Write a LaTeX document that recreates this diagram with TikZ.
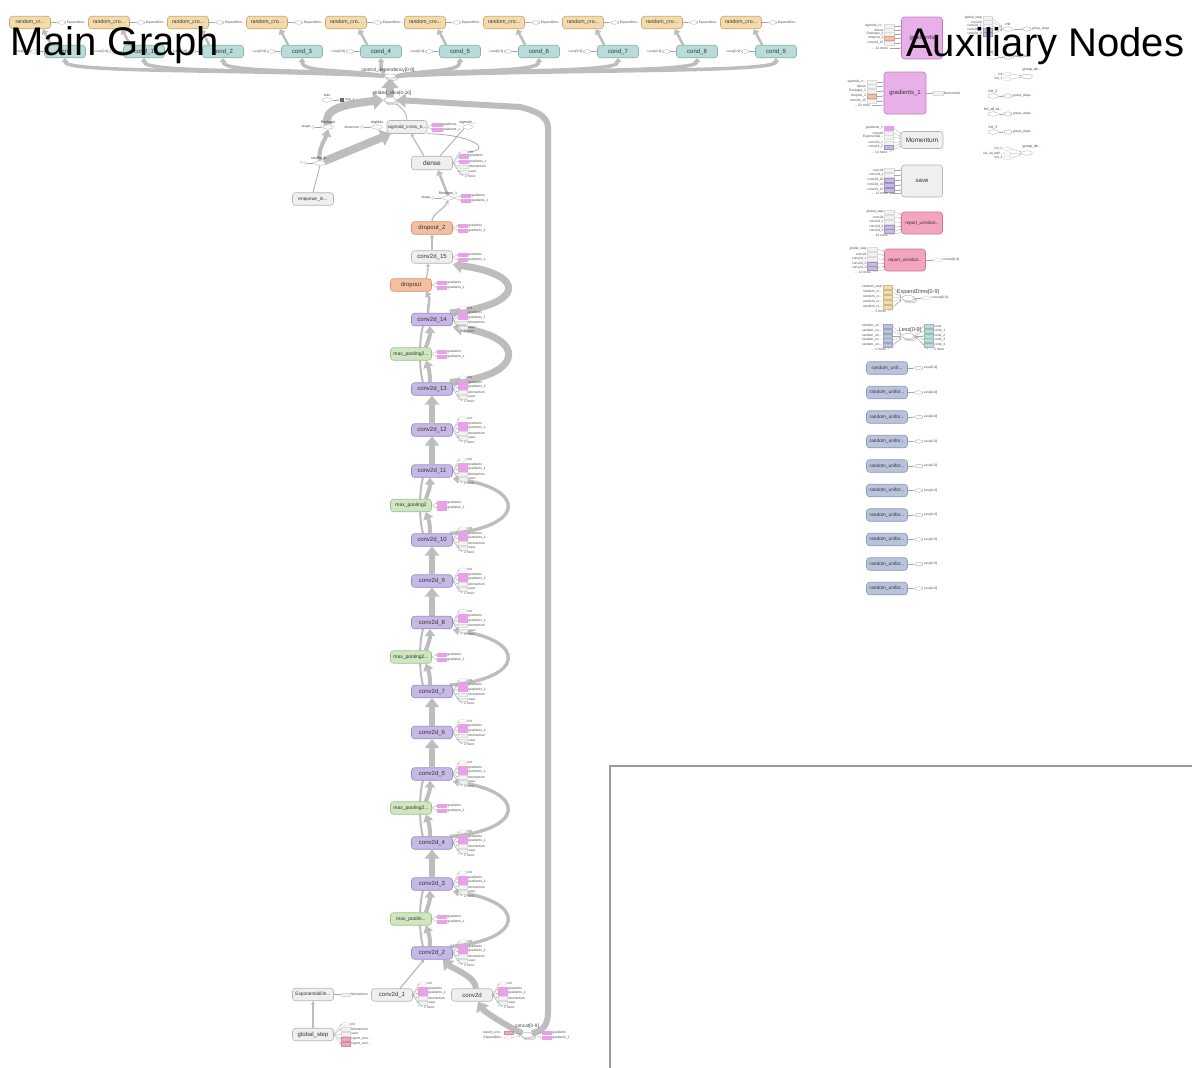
\documentclass[tikz,border=0pt]{standalone}
\usepackage{fontspec}
\setmainfont{Liberation Sans}
\usetikzlibrary{arrows.meta,calc,shapes.geometric,shadows}
\pgfdeclarelayer{bottom}
\pgfdeclarelayer{edges}
\pgfsetlayers{bottom,edges,main}
\newcommand\dts{.\kern0pt.\kern0pt.}
\definecolor{tanF}{HTML}{F3DBAB}
\definecolor{tanD}{HTML}{C9A86E}
\definecolor{tealF}{HTML}{B9DBDA}
\definecolor{tealD}{HTML}{86B2B0}
\definecolor{grayF}{HTML}{EFEFEF}
\definecolor{grayD}{HTML}{B5B5B5}
\definecolor{purF}{HTML}{C7B9E5}
\definecolor{purD}{HTML}{9A89C6}
\definecolor{grnF}{HTML}{CFE7C1}
\definecolor{grnD}{HTML}{9CC487}
\definecolor{orgF}{HTML}{F5BFA2}
\definecolor{orgD}{HTML}{D4926E}
\definecolor{pnkF}{HTML}{E9AFE9}
\definecolor{pnkD}{HTML}{BB80BB}
\definecolor{pnkT}{HTML}{E7A2E7}
\definecolor{rosF}{HTML}{F3A5C0}
\definecolor{rosD}{HTML}{CC7595}
\definecolor{bluF}{HTML}{B9C3DB}
\definecolor{bluD}{HTML}{8C99BB}
\definecolor{edgeG}{HTML}{BDBDBD}
\definecolor{lineG}{HTML}{9A9A9A}
\tikzset{
  opnode/.style={draw, rounded corners=3pt, line width=0.6pt, minimum width=41pt, minimum height=12.5pt, inner sep=0pt, font=\fontsize{6}{7}\selectfont, text=black!80},
  tanN/.style={opnode, fill=tanF, draw=tanD},
  tealN/.style={opnode, fill=tealF, draw=tealD},
  grayN/.style={opnode, fill=grayF, draw=grayD},
  purN/.style={opnode, fill=purF, draw=purD},
  grnN/.style={opnode, fill=grnF, draw=grnD, font=\fontsize{5}{6}\selectfont},
  orgN/.style={opnode, fill=orgF, draw=orgD},
  pnkN/.style={opnode, fill=pnkF, draw=pnkD},
  rosN/.style={opnode, fill=rosF, draw=rosD, font=\fontsize{4.5}{5}\selectfont},
  bluN/.style={opnode, fill=bluF, draw=bluD, font=\fontsize{4.8}{5}\selectfont},
  smallf/.style={font=\fontsize{4.8}{5.5}\selectfont},
  tagbox/.style={rectangle, minimum width=9.5pt, minimum height=3.6pt, inner sep=0pt, draw=black!14, line width=0.2pt, fill=black!5},
  tgP/.style={fill=pnkT, draw=pnkT},
  tgL/.style={},
  tgW/.style={ellipse, fill=white, draw=black!25, minimum width=8pt, minimum height=3.4pt},
  tgN/.style={draw=none, fill=none, minimum width=1pt},
  tgU/.style={fill=purF, draw=purF!80!black},
  tgO/.style={fill=orgF, draw=orgF!85!black},
  tgR/.style={fill=rosF, draw=rosF!85!black},
  tgT/.style={fill=tealF, draw=tealF!85!black},
  tgB/.style={fill=bluF, draw=bluF!85!black},
  tgK/.style={fill=tanF, draw=tanF!85!black},
  tagtxt/.style={font=\fontsize{3.3}{3.6}\selectfont, inner sep=0.6pt, text=black!70},
  fanln/.style={draw=black!35, line width=0.25pt, -{Latex[length=1.4pt,width=1.2pt]}},
  ellop/.style={ellipse, draw=black!40, fill=white, minimum width=11pt, minimum height=4.5pt, inner sep=0pt, line width=0.3pt},
  circop/.style={circle, draw=black!40, fill=white, minimum size=3pt, inner sep=0pt, line width=0.3pt},
  stacknode/.style={ellop, double copy shadow={shadow xshift=1.2pt, shadow yshift=-1.2pt}},
  elab/.style={font=\fontsize{3.6}{4}\selectfont, inner sep=0.5pt, text=black!75},
  thinE/.style={draw=edgeG!85!black, line width=0.7pt},
  arrW/.style={draw=edgeG, line width=8pt, -{Triangle[length=10pt,width=17pt]}},
  arrA/.style={draw=edgeG, line width=6pt, -{Triangle[length=9pt,width=14pt]}},
  arrB/.style={draw=edgeG, line width=4pt, -{Triangle[length=7pt,width=10pt]}},
  arrC/.style={draw=edgeG, line width=2.5pt, -{Triangle[length=5pt,width=7pt]}},
  arrCD/.style={draw=edgeG, line width=3.5pt, -{Triangle[length=4pt,width=7pt]}},
  arrD/.style={draw=edgeG, line width=1.3pt, -{Triangle[length=3pt,width=4pt]}},
  loopS/.style={draw=edgeG, line width=3.3pt, -{Triangle[length=6pt,width=8.5pt]}},
  loopW/.style={draw=edgeG, line width=7pt, -{Triangle[length=9pt,width=14pt]}},
}
\newcommand\fanout[3]{%
  \foreach \dy/\st/\lb [count=\i] in {#3} {
    \node[tagbox,\st] (#1-t\i) at ($(#1.east)+(#2,\dy)$) {};
    \node[tagtxt,anchor=west] at (#1-t\i.east) {\lb};
    \draw[fanln] (#1.east) -- (#1-t\i.west);
  }}
\newcommand\fanin[4]{%
  \foreach \dy/\st/\lb [count=\i] in {#3} {
    \node[tagbox,\st] (#1-i\i) at ($(#1.west)+(-#2,\dy)$) {};
    \node[tagtxt,anchor=east] at (#1-i\i.west) {\lb};
    \draw[fanln] (#1-i\i.east) -- ($(#1.west)+(0,{\dy*#4})$);
  }}
\newcommand\convtags[1]{\fanout{#1}{10}{-11.5/tgW/init,-6.5/tgP/gradients,-2/tgP/gradients\_1,3/tgL/Momentum,8/tgL/save,12/tgN/2 more}}
\newcommand\twotags[2]{\fanout{#1}{#2}{-2.5/tgP/gradients,2.5/tgP/gradients\_1}}
\newcommand\poolsec[4]{%
 \draw[edgeG, line width=2pt] ([xshift=-9]#1.north) .. controls +(-4,-14) and +(-4,14) .. ([xshift=-9]#3.south);
 \draw[arrB] ([xshift=-2]#1.north) .. controls +(0,-10) and +(3,8) .. ([xshift=-6]#2.south east);
 \draw[arrB] ([xshift=-6]#2.north east) .. controls +(3,-8) and +(0,10) .. ([xshift=-2]#3.south);
 \draw[#4] ([xshift=-3]#1.north east) .. controls +(75,-6) and +(75,10) .. ([yshift=-1]#3.south east);
}
\begin{document}
\begin{tikzpicture}[x=1pt,y=-1pt]
\useasboundingbox (0,0) rectangle (1192,1068);
\begin{pgfonlayer}{bottom}
\fill[white] (0,0) rectangle (1192,1068);
\end{pgfonlayer}

% ---------- top rows
\foreach \i/\rl/\cl in {0/random\_cr\dts/cond,1/random\_cro\dts/cond\_1,2/random\_cro\dts/cond\_2,3/random\_cro\dts/cond\_3,4/random\_cro\dts/cond\_4,5/random\_cro\dts/cond\_5,6/random\_cro\dts/cond\_6,7/random\_cro\dts/cond\_7,8/random\_cro\dts/cond\_8,9/random\_cro\dts/cond\_9}{
  \node[tanN, font=\fontsize{5.2}{6}\selectfont] (rnd\i) at ({30+79*\i},22.5) {\rl};
  \node[tealN] (cond\i) at ({65+79*\i},51.5) {\cl};
  \node[ellop, minimum width=8pt, minimum height=3.6pt] (xe\i) at ($(rnd\i.east)+(11,0)$) {};
  \draw[fanln] (rnd\i.east) -- (xe\i.west);
  \node[tagtxt, anchor=west] at (xe\i.east) {ExpandDim\dts};
  \node[ellop, minimum width=8pt, minimum height=3.6pt] (le\i) at ($(cond\i.west)+(-10,0)$) {};
  \draw[fanln] (le\i.east) -- (cond\i.west);
  \node[tagtxt, anchor=east] at (le\i.west) {Less[0-9]};
}
\node[stacknode, minimum width=12pt, minimum height=4pt] (cd) at (390,76) {};
\node[elab, font=\fontsize{4.8}{5}\selectfont] (cdl) at (388,70.5) {control\_dependency[0-9]};

% ---------- upper main graph
\node[stacknode, minimum width=13pt, minimum height=5pt] (ss) at (390,100) {};
\node[elab, font=\fontsize{4.8}{5}\selectfont] (ssl) at (392,93) {strided\_slice[0-10]};
\node[ellop] (loss) at (327,100) {};
\node[elab, above=0pt] at (loss.north) {loss};
\node[rectangle, fill=black!60, minimum size=4.5pt, inner sep=0pt] (lsq) at (342,100) {};
\draw[fanln] (loss.east) -- (lsq.west);
\node[tagtxt, anchor=west] at (lsq.east) {loss\_1};

\node[ellop] (resh) at (328,127) {};
\node[elab, above=0pt] at (resh.north) {Reshape};
\node[circop] (rshape) at (313,127) {};
\node[tagtxt, anchor=east] at (rshape.west) {shape};
\draw[fanln] (rshape) -- (resh.west);

\node[ellop] (argm) at (377,127) {};
\node[elab, above=0pt] at (argm.north) {ArgMax};
\node[circop] (dimc) at (362,127) {};
\node[tagtxt, anchor=east] at (dimc.west) {dimension};
\draw[fanln] (dimc) -- (argm.west);

\node[grayN, minimum width=40pt, minimum height=13pt, font=\fontsize{4.6}{5}\selectfont] (sgc) at (407,127) {sigmoid\_cross\_e\dts};
\twotags{sgc}{10}
\node[ellop] (sig) at (468,127) {};
\node[elab, above=0pt] at (sig.north) {sigmoid\_\dts};

\node[ellop] (sbat) at (320,163) {};
\node[elab, above=0pt] at (sbat.north) {shuffle\_b\dts};
\node[circop] (nc) at (305,163) {};
\node[tagtxt, anchor=east] at (nc.west) {n};
\draw[fanln] (nc) -- (sbat.west);
\node[grayN, smallf] (enq) at (313,199) {enqueue\_in\dts};

\node[grayN, minimum height=13.5pt, font=\fontsize{6.5}{7}\selectfont] (dense) at (432,163) {dense};
\fanout{dense}{11}{-11/tgW/init,-7/tgP/gradients,-1.5/tgP/gradients\_1,3.5/tgL/Momentum,9/tgL/save,13/tgN/2 more}

\node[ellop] (r1) at (448,198) {};
\node[elab, above=0pt] at (r1.north) {Reshape\_1};
\node[circop] (r1s) at (433,198) {};
\node[tagtxt, anchor=east] at (r1s.west) {shape};
\draw[fanln] (r1s) -- (r1.west);
\twotags{r1}{12}

% ---------- main chain
\node[orgN] (do2) at (432,228) {dropout\_2};
\twotags{do2}{10}
\node[grayN] (c15) at (432,257) {conv2d\_15};
\twotags{c15}{10}
\node[orgN] (do) at (411,285) {dropout};
\twotags{do}{10}
\node[purN] (c14) at (432,319.5) {conv2d\_14};
\node[grnN] (mp5) at (411,354) {max\_pooling2\dts};
\node[purN] (c13) at (432,389) {conv2d\_13};
\node[purN] (c12) at (432,430) {conv2d\_12};
\node[purN] (c11) at (432,471) {conv2d\_11};
\node[grnN] (mp4) at (411,505.5) {max\_pooling2};
\node[purN] (c10) at (432,540) {conv2d\_10};
\node[purN] (c9) at (432,581) {conv2d\_9};
\node[purN] (c8) at (432,622.5) {conv2d\_8};
\node[grnN] (mp3) at (411,657) {max\_pooling2\dts};
\node[purN] (c7) at (432,691.5) {conv2d\_7};
\node[purN] (c6) at (432,732.5) {conv2d\_6};
\node[purN] (c5) at (432,774) {conv2d\_5};
\node[grnN] (mp2) at (411,808) {max\_pooling2\dts};
\node[purN] (c4) at (432,843) {conv2d\_4};
\node[purN] (c3) at (432,884) {conv2d\_3};
\node[grnN] (mp1) at (411,919) {max\_poolin\dts};
\node[purN] (c2) at (432,953) {conv2d\_2};
\foreach \n in {c14,c13,c12,c11,c10,c9,c8,c7,c6,c5,c4,c3,c2} {\convtags{\n}}
\foreach \n in {mp5,mp4,mp3,mp2,mp1} {\twotags{\n}{10}}

\node[grayN] (c1) at (392,995) {conv2d\_1};
\node[grayN] (cv0) at (472,995) {conv2d};
\convtags{c1}
\convtags{cv0}
\node[grayN, font=\fontsize{4.8}{5}\selectfont] (exd) at (313,994.5) {ExponentialDe\dts};
\fanout{exd}{12}{0/tgL/Momentum}
\node[grayN] (gs) at (313,1034.5) {global\_step};
\fanout{gs}{12}{-10.5/tgW/init,-5.5/tgL/Momentum,-0.5/tgL/save,4.5/tgR/report\_unin\dts,9.5/tgR/report\_unin\dts}
\node[stacknode, minimum width=13pt, minimum height=5pt] (cc) at (527,1035) {};
\node[elab, font=\fontsize{4.8}{5}\selectfont] at (527,1026.5) {concat[0-9]};
\fanin{cc}{12}{-2.5/tgR/report\_unin\dts,2.5/tgW/ExpandDim\dts}{0.3}
\fanout{cc}{13}{-2.5/tgP/gradients,2.5/tgP/gradients\_1}

% ---------- edges
\coordinate (vb) at (548,1012);
\coordinate (vt) at (548,128);
\coordinate (vk) at (520,107);
\begin{pgfonlayer}{edges}
\foreach \i in {0,...,9} {\draw[arrC] ([xshift=7]cond\i.north west) -- ([xshift=-8]rnd\i.south east);}
\foreach \i in {0,...,4} {\draw[arrCD] (cd.west) .. controls ($(cd.west)!0.45!(cd.west -| cond\i.south)+(0,-7)$) and ($(cond\i.south |- cd.west)+(0,-3)$) .. (cond\i.south);}
\foreach \i in {5,...,9} {\draw[arrCD] (cd.east) .. controls ($(cd.east)!0.45!(cd.east -| cond\i.south)+(0,-7)$) and ($(cond\i.south |- cd.east)+(0,-3)$) .. (cond\i.south);}
\draw[arrW] (ss.north) -- (cd.south);
\draw[arrW] (resh.north) .. controls (322,109) and (345,104) .. (ss.west);
\draw[arrW] (sbat.north east) -- ([xshift=4]sgc.south west);
\draw[arrB] (sbat.north) .. controls +(-3,-10) and +(-2,8) .. (resh.south);
\draw[thinE] (enq.north) -- (sbat.south);
\draw[thinE] (sgc.north) .. controls +(0,-10) and +(4,5) .. (ss.south east);
\draw[arrD] ([xshift=-8]dense.north) -- ([xshift=4]sgc.south);
\draw[thinE] (sig.south west) -- ([xshift=8]dense.north);
\draw[thinE] (sgc.south east) .. controls (470,134) and (495,150) .. (dense-t1.east);
\draw[arrC] (r1.north) -- ([xshift=6]dense.south);
\draw[arrD] (do2.north) .. controls +(0,-8) and +(-3,8) .. (r1.south);
\draw[arrD] (c15.north) -- (do2.south);
\draw[arrD] ([xshift=-6]do.north east) .. controls +(2,-4) and +(0,5) .. ([xshift=-4]c15.south);
\draw[arrC] ([xshift=-4]c14.north) .. controls +(0,-10) and +(5,8) .. ([xshift=-6]do.south east);
\draw[loopW] ([xshift=-3]c14.north east) .. controls +(75,-8) and +(75,10) .. ([yshift=-1]c15.south east);
\poolsec{c13}{mp5}{c14}{loopW}
\poolsec{c10}{mp4}{c11}{loopS}
\poolsec{c7}{mp3}{c8}{loopS}
\poolsec{c4}{mp2}{c5}{loopS}
\poolsec{c2}{mp1}{c3}{loopS}
\draw[arrA] (c12.north) -- (c13.south);
\draw[arrA] (c11.north) -- (c12.south);
\draw[arrA] (c9.north) -- (c10.south);
\draw[arrA] (c8.north) -- (c9.south);
\draw[arrA] (c6.north) -- (c7.south);
\draw[arrA] (c5.north) -- (c6.south);
\draw[arrA] (c3.north) -- (c4.south);
\draw[arrA] (cc.north west) .. controls +(-14,-6) and +(6,10) .. ([xshift=6]cv0.south);
\draw[arrA] ([xshift=4]cv0.north) .. controls +(0,-12) and +(8,8) .. ([xshift=-10]c2.south east);
\draw[arrD] ([xshift=8]c1.north) -- ([xshift=-8]c2.south);
\draw[arrD] (gs.north) -- (exd.south);
\draw[arrA] (cc.north east) .. controls +(12,-2) and +(0,12) .. (vb) -- (vt) .. controls +(0,-12) and +(16,4) .. (vk) -- (ss.east);
\end{pgfonlayer}

% ---------- auxiliary column
\node[pnkN, minimum height=42pt] (grad) at (922,38) {gradients};
\fanin{grad}{12}{-12/tgL/sigmoid\_cr\dts,-8/tgL/dense,-4/tgL/Reshape\_1,0/tgO/dropout\_2,5/tgL/conv2d\_15,10/tgN/{\dts} 22 more}{1}
\node[pnkN, minimum width=42pt, minimum height=42pt] (grad1) at (905,93) {gradients\_1};
\fanin{grad1}{12}{-11/tgL/sigmoid\_cr\dts,-7/tgL/dense,-2/tgL/Reshape\_1,3/tgO/dropout\_2,8/tgL/conv2d\_15,12/tgN/{\dts} 22 more}{1}
\fanout{grad1}{12}{0/tgL/Momentum}
\node[grayN, minimum width=42pt, minimum height=17pt, font=\fontsize{6.5}{7}\selectfont] (mom) at (922,140) {Momentum};
\fanin{mom}{12}{-12/tgP/gradients\_1,-7/tgL/conv2d,-3/tgL/Exponential\dts,3/tgL/conv2d\_1,7/tgU/conv2d\_2,12/tgN/{\dts} 14 more}{0.5}
\node[grayN, minimum height=32pt] (save) at (922,181) {save};
\fanin{save}{12}{-11/tgL/conv2d,-6/tgL/conv2d\_1,-1/tgU/conv2d\_10,4/tgU/conv2d\_11,9/tgU/conv2d\_12,12.5/tgN/{\dts} 12 more}{1}
\node[rosN, minimum height=22pt] (rep1) at (922,223) {report\_uninitial\dts};
\fanin{rep1}{12}{-11/tgL/global\_step,-6/tgL/conv2d,-1/tgL/conv2d\_1,4/tgU/conv2d\_2,8/tgU/conv2d\_3,12/tgN/{\dts} 12 more}{0.8}
\node[rosN, minimum height=22pt] (rep2) at (905,260) {report\_uninitial\dts};
\fanin{rep2}{12}{-11/tgL/global\_step,-6/tgL/conv2d,-1/tgL/conv2d\_1,4/tgU/conv2d\_2,8/tgU/conv2d\_3,12/tgN/{\dts} 12 more}{0.8}
\fanout{rep2}{12}{0/tgW/concat[0-9]}
\node[stacknode, minimum width=13pt, minimum height=5pt] (exds) at (908,298) {};
\node[elab, font=\fontsize{5.5}{6}\selectfont] at (918,292) {ExpandDims[0-9]};
\fanin{exds}{14}{-11/tgK/random\_step,-6/tgK/random\_cr\dts,-1/tgK/random\_cr\dts,4/tgK/random\_cr\dts,9/tgK/random\_cr\dts,13/tgN/{\dts} 5 more}{0.2}
\fanout{exds}{12}{0/tgW/concat[0-9]}
\node[stacknode, minimum width=13pt, minimum height=5pt] (less) at (908,336) {};
\node[elab, font=\fontsize{5.5}{6}\selectfont] at (910,330) {Less[0-9]};
\fanin{less}{14}{-10/tgB/random\_un\dts,-5/tgB/random\_un\dts,0/tgB/random\_un\dts,4/tgB/random\_un\dts,9/tgB/random\_un\dts,13/tgN/{\dts} 5 more}{0.2}
\fanout{less}{14}{-10/tgT/cond,-5/tgT/cond\_1,0/tgT/cond\_2,4/tgT/cond\_3,9/tgT/cond\_4,13/tgN/{\dts} 5 more}
\foreach \k/\lb in {0/random\_unif\dts,1/random\_unifor\dts,2/random\_unifor\dts,3/random\_unifor\dts,4/random\_unifor\dts,5/random\_unifor\dts,6/random\_unifor\dts,7/random\_unifor\dts,8/random\_unifor\dts,9/random\_unifor\dts} {
  \node[bluN] (ru\k) at (887,{368+24.5*\k}) {\lb};
  \node[ellop, minimum width=8pt, minimum height=3.6pt] (rl\k) at ($(ru\k.east)+(11,0)$) {};
  \draw[fanln] (ru\k.east) -- (rl\k.west);
  \node[tagtxt, anchor=west] at (rl\k.east) {Less[0-9]};
}

% ---------- init / group_deps
\node[ellop] (init) at (1008,29) {};
\node[elab, above=0pt] at (init.north) {init};
\fanin{init}{15}{-11/tgL/global\_step,-7/tgL/conv2d,-3/tgL/conv2d\_1,1/tgU/conv2d\_2,5/tgU/conv2d\_3}{0.2}
\node[ellop, minimum width=8pt] (gd0) at (1027,29) {};
\draw[fanln] (init) -- (gd0);
\node[tagtxt, anchor=west] at (gd0.east) {group\_deps};
\foreach \nm/\lb/\yy in {i1/init\_1/57,i2/init\_2/96,ia/init\_all\_ta\dts/114,i3/init\_3/132} {
  \node[ellop] (\nm) at (993,\yy) {};
  \node[elab, above=0pt] at (\nm.north) {\lb};
  \node[ellop, minimum width=8pt] (\nm g) at (1008,\yy) {};
  \draw[fanln] (\nm) -- (\nm g);
  \node[tagtxt, anchor=west] at (\nm g.east) {group\_deps\dts};
}
\node[ellop] (gda) at (1027,76.5) {};
\node[elab, anchor=south west] at (1022,72) {group\_de\dts};
\fanin{gda}{14}{-2.5/tgW/init,2.5/tgW/init\_1}{0.3}
\node[ellop] (gdb) at (1027,153) {};
\node[elab, anchor=south west] at (1022,148.5) {group\_de\dts};
\fanin{gdb}{14}{-4/tgW/init\_2,0.5/tgW/init\_all\_tabl\dts,5/tgW/init\_3}{0.3}

% ---------- minimap frame
\coordinate (mmA) at (610,1068);
\coordinate (mmB) at (610,766);
\coordinate (mmC) at (1192,766);
\draw[lineG, line width=1.4pt] (mmA) -- (mmB) -- (mmC);

% ---------- titles
\node[anchor=base west, inner sep=0pt, font=\fontsize{40}{40}\selectfont] (mgt) at (10,55) {Main Graph};
\node[anchor=base west, inner sep=0pt, font=\fontsize{40}{40}\selectfont] (axt) at (906,56) {Auxiliary Nodes};
\end{tikzpicture}
\end{document}
